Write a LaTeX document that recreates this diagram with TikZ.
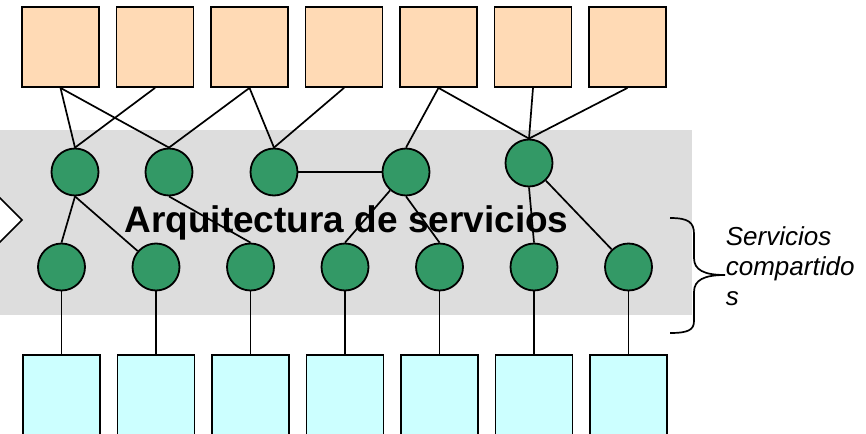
\documentclass[tikz,border=0pt]{standalone}
\usepackage{fontspec}
\setmainfont{Liberation Sans}
\usetikzlibrary{positioning}

\definecolor{peach}{RGB}{255,218,181}
\definecolor{aqua}{RGB}{204,255,255}
\definecolor{svcgreen}{RGB}{51,153,102}
\definecolor{bandgray}{RGB}{221,221,221}

\tikzset{
  app/.style={draw, line width=1.8pt, fill=peach, minimum width=77pt, minimum height=80pt, inner sep=0pt},
  res/.style={app, fill=aqua},
  svc/.style={draw, circle, line width=1.8pt, fill=svcgreen, minimum size=47pt, inner sep=0pt},
}

\begin{document}
\begin{tikzpicture}[x=1pt,y=-1pt,node distance=15.7pt,line width=1.7pt]
        \useasboundingbox (0,0) rectangle (866,433);
        \clip (0,0) rectangle (866,433);
        % Band
        \fill[bandgray] (0,130) rectangle (692,315);
        \draw[fill=white] (-10,188) -- (22,220) -- (-10,252) -- cycle;
        \node[anchor=base, font=\fontsize{37}{44}\selectfont\bfseries] (title) at (346.5,232) {Arquitectura de servicios};

        % Nodes
        \node[app]                 (t1) at (60.5,47) {};
        \node[app, right=of t1]    (t2) {};
        \node[app, right=of t2]    (t3) {};
        \node[app, right=of t3]    (t4) {};
        \node[app, right=of t4]    (t5) {};
        \node[app, right=of t5]    (t6) {};
        \node[app, right=of t6]    (t7) {};

        \node[svc] (s1) at (75,172)  {};
        \node[svc] (s2) at (169,172) {};
        \node[svc] (s3) at (274,172) {};
        \node[svc] (s4) at (406,172) {};
        \node[svc] (s5) at (529,163) {};

        \node[svc]                      (c1) at (61.5,267) {};
        \node[svc, right=45.7pt of c1]  (c2) {};
        \node[svc, right=45.7pt of c2]  (c3) {};
        \node[svc, right=45.7pt of c3]  (c4) {};
        \node[svc, right=45.7pt of c4]  (c5) {};
        \node[svc, right=45.7pt of c5]  (c6) {};
        \node[svc, right=45.7pt of c6]  (c7) {};

        \node[res, below=62.7pt of c1]  (b1) {};
        \node[res, below=62.7pt of c2]  (b2) {};
        \node[res, below=62.7pt of c3]  (b3) {};
        \node[res, below=62.7pt of c4]  (b4) {};
        \node[res, below=62.7pt of c5]  (b5) {};
        \node[res, below=62.7pt of c6]  (b6) {};
        \node[res, below=62.7pt of c7]  (b7) {};

        % Edges
        \draw (t1.south) -- (s1.north);
        \draw (t1.south) -- (s2.north);
        \draw (t2.south) -- (s1.north);
        \draw (t3.south) -- (s2.north);
        \draw (t3.south) -- (s3.north);
        \draw (t4.south) -- (s3.north);
        \draw (t5.south) -- (s4.north);
        \draw (t5.south) -- (s5.north);
        \draw (t6.south) -- (s5.north);
        \draw (t7.south) -- (s5.north);
        \draw (s3) -- (s4);
        \draw (s1.south) -- (c1.north);
        \draw (s1.south) -- (c2);
        \draw (s2.south) -- (c3.north);
        \draw (s4) -- (c4.north);
        \draw (s4.south) -- (c5.north);
        \draw (s5.south) -- (c6.north);
        \draw (s5) -- (c7);
        \draw (c1) -- (b1);
        \draw (c2) -- (b2);
        \draw (c3) -- (b3);
        \draw (c4) -- (b4);
        \draw (c5) -- (b5);
        \draw (c6) -- (b6);
        \draw (c7) -- (b7);

        % Brace
        \coordinate (br1) at (670,218);
        \coordinate (tip) at (725,275);
        \coordinate (br2) at (670,333);
        \draw (br1) .. controls (688,218) and (694,222) .. (694,234) -- (694,258)
              .. controls (694,270) and (704,275) .. (tip)
              .. controls (704,275) and (694,280) .. (694,292) -- (694,321)
              .. controls (694,330) and (688,333) .. (br2);
        \node[anchor=north west, inner sep=0pt, align=left, font=\fontsize{26}{30}\selectfont\itshape] (shared) at (725,226) {Servicios\\compartido\\s};
\end{tikzpicture}
\end{document}
